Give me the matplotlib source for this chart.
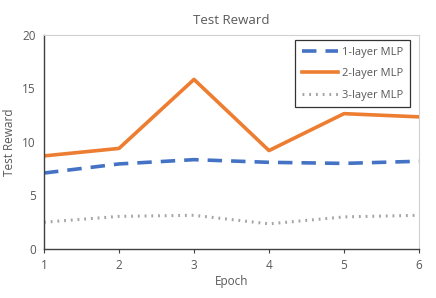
import matplotlib
matplotlib.use('Agg')
from matplotlib import pyplot as plt

epochs = [1, 2, 3, 4, 5, 6]
mlp1 = [7.1, 7.95, 8.35, 8.1, 8.0, 8.2]
mlp2 = [8.7, 9.4, 15.85, 9.2, 12.65, 12.35]
mlp3 = [2.5, 3.05, 3.15, 2.35, 3.0, 3.15]
yticks = [0, 5, 10, 15, 20]

plt.rcParams['font.family'] = ['Open Sans', 'DejaVu Sans']
txt = '#595959'

fig = plt.figure(figsize=(4.36, 2.98), dpi=100)
ax = fig.add_axes([44/436, 1-249/298, 375/436, 214/298])

ax.plot(epochs, mlp1, c='#4472C4', lw=2.6, dashes=(4, 2.5), label='1-layer MLP')
ax.plot(epochs, mlp2, c='#ED7D31', lw=2.6, label='2-layer MLP')
ax.plot(epochs, mlp3, c='#A5A5A5', lw=2.2, dashes=(0.6, 1.6), label='3-layer MLP')

ax.set_xlim(1, 6)
ax.set_ylim(0, 20)
ax.set_xticks(epochs)
ax.set_yticks(yticks)
ax.tick_params(axis='x', colors=txt, labelsize=8.5, length=3, color='#404040', pad=4)
ax.tick_params(axis='y', colors=txt, labelsize=8.5, length=0, pad=6)
for s in ['left', 'bottom']:
	ax.spines[s].set_color('#404040')
	ax.spines[s].set_linewidth(1.0)
for s in ['top', 'right']:
	ax.spines[s].set_color('#D0D0D0')
	ax.spines[s].set_linewidth(0.8)

ax.set_title('Test Reward', color=txt, fontsize=9.5, pad=8)
ax.set_xlabel('Epoch', color=txt, fontsize=8.5, labelpad=2)
ax.set_ylabel('Test Reward', color=txt, fontsize=8.5, labelpad=4)

leg = ax.legend(loc='upper right', fontsize=8, frameon=True, fancybox=False,
	edgecolor='black', handlelength=3.2, borderpad=0.6, labelspacing=0.95,
	handletextpad=0.4, borderaxespad=0, bbox_to_anchor=(0.976, 0.977))
leg.get_frame().set_linewidth(0.9)
for t in leg.get_texts():
	t.set_color(txt)

fig.savefig('out.png', dpi=100)
